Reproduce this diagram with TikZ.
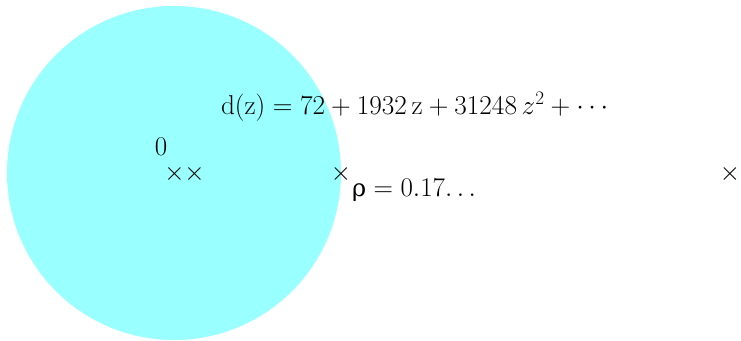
\documentclass[tikz,border=0pt]{standalone}
\usepackage{fix-cm}
\usepackage{fontspec}
\newfontfamily\grk{DejaVu Serif}
\definecolor{disk}{RGB}{153,255,255}
\tikzset{
  lbl/.style={inner sep=0pt, outer sep=0pt, font=\fontsize{27}{32}\selectfont},
  wide/.style={inner sep=0pt, outer sep=0pt, font=\fontsize{27.3}{32}\selectfont},
  pole/.style={inner sep=0pt, outer sep=0pt, font=\fontsize{26}{30}\selectfont, anchor=base}
}
\begin{document}
\begin{tikzpicture}[x=1pt,y=-1pt]
\useasboundingbox (0,0) rectangle (741,340);
\fill[disk] (174,173) circle (167);
\node[pole] (p0) at (174.5,180) {$\times$};
\node[pole] (p1) at (194.5,180) {$\times$};
\node[pole] (p2) at (341,180) {$\times$};
\node[pole] (p3) at (730,180) {$\times$};
\node[lbl, anchor=base] (zero) at (161,155) {$0$};
\node[wide, anchor=base west] (dz) at (221,114) {$\mathrm{d}(\mathrm{z}) = 72 + 1932\,\mathrm{z} + 31248\,z^2 + \cdots$};
\node[lbl, anchor=base west] (rho) at (352,196) {$\hbox{\grk\fontsize{24}{28}\selectfont ρ} = 0.17\ldotp\ldotp\ldotp$};
\end{tikzpicture}
\end{document}
